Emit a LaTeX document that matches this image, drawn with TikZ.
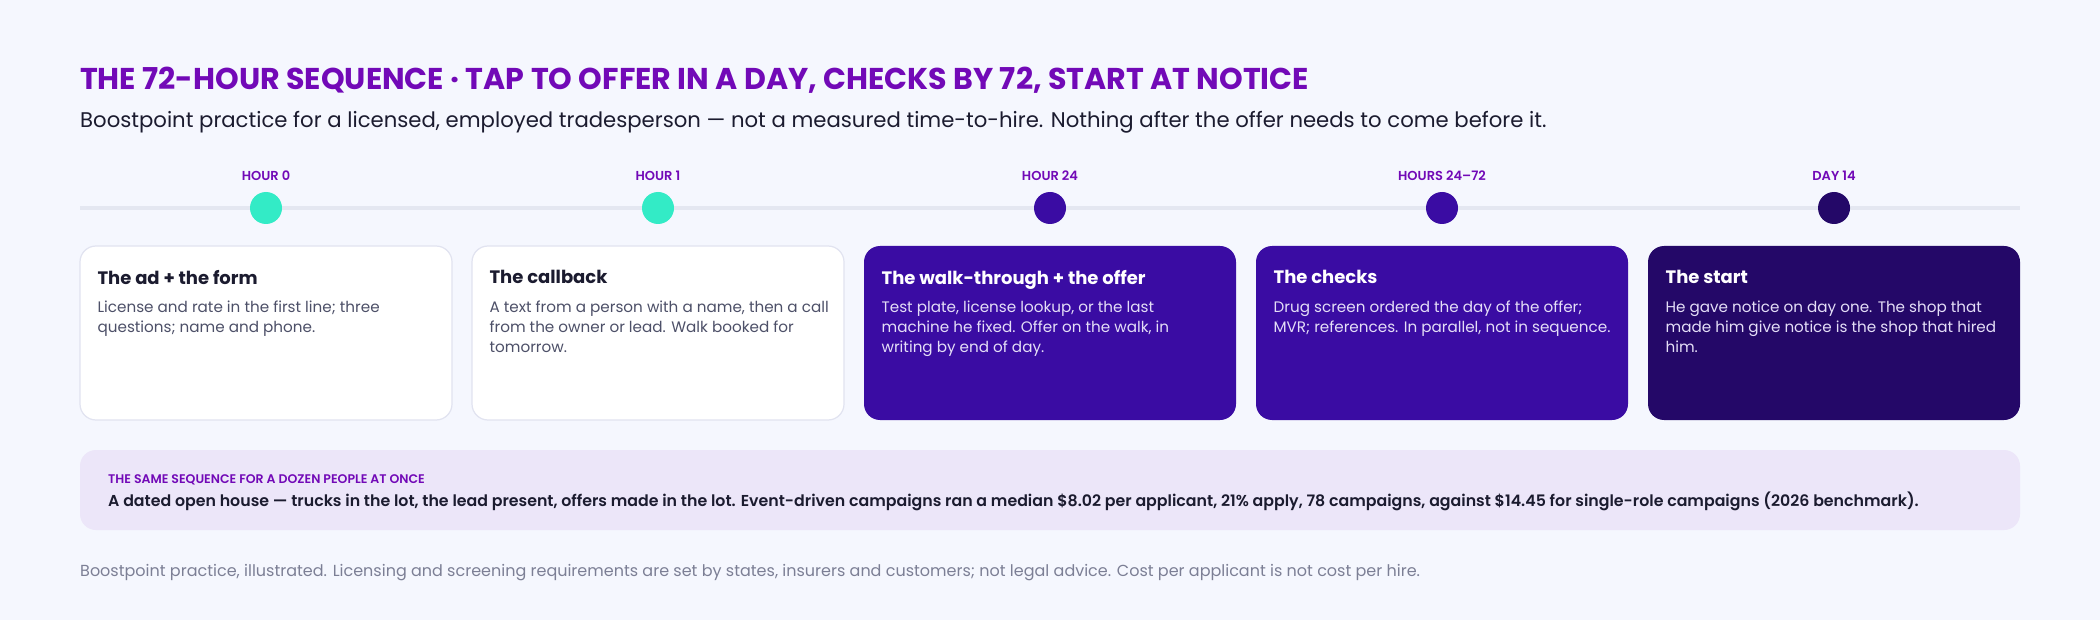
\documentclass[tikz,border=0pt]{standalone}
\usepackage{fontspec}
\setmainfont{Poppins}
\newfontfamily\semib{Poppins SemiBold}
\newfontfamily\medium{Poppins Medium}
\usepackage{xcolor}
\usetikzlibrary{positioning}
\definecolor{bgc}{HTML}{F5F7FE}
\definecolor{titlec}{HTML}{7209B7}
\definecolor{inkc}{HTML}{1B1B2F}
\definecolor{greyc}{HTML}{4D5068}
\definecolor{railc}{HTML}{E4E7F1}
\definecolor{tealc}{HTML}{33EBC6}
\definecolor{violetc}{HTML}{3A0CA3}
\definecolor{nightc}{HTML}{240868}
\definecolor{edgec}{HTML}{E1E3F0}
\definecolor{lilac}{HTML}{ECE6F9}
\definecolor{palec}{HTML}{E4DEF7}
\definecolor{footc}{HTML}{7C7F95}

\begin{document}
\begin{tikzpicture}[x=1pt,y=-1pt,
  card/.style={rounded corners=16pt,minimum width=372pt,minimum height=174pt,line width=1.2pt},
  hourlbl/.style={font=\semib\fontsize{13}{15}\selectfont,text=titlec,inner sep=0pt},
  dot/.style={circle,minimum size=32pt,inner sep=0pt},
  cardhead/.style={font=\bfseries\fontsize{18}{22}\selectfont,anchor=north west,inner sep=0pt},
  cardtext/.style={font=\fontsize{15.2}{20}\selectfont,anchor=north west,inner sep=0pt,align=left}]
\fill[bgc] (0,0) rectangle (2100,620);  % page
\useasboundingbox (0,0) rectangle (2100,620);

% heading
\node[anchor=west,inner sep=0pt,text=titlec,font=\bfseries\fontsize{30.1}{34}\selectfont] (title) at (80,80) {THE 72-HOUR SEQUENCE · TAP TO OFFER IN A DAY, CHECKS BY 72, START AT NOTICE};
\node[anchor=west,inner sep=0pt,text=inkc,font=\fontsize{21.2}{26}\selectfont] (sub) at (80,122) {Boostpoint practice for a licensed, employed tradesperson — not a measured time-to-hire. Nothing after the offer needs to come before it.};

% timeline
\coordinate (railL) at (80,208);
\coordinate (railR) at (2020,208);
\draw[railc,line width=4pt] (railL)--(railR);
\node[dot,fill=tealc] (d1) at (266,208) {};
\node[dot,fill=tealc] (d2) at (658,208) {};
\node[dot,fill=violetc] (d3) at (1050,208) {};
\node[dot,fill=violetc] (d4) at (1442,208) {};
\node[dot,fill=nightc] (d5) at (1834,208) {};
\node[hourlbl] (h1) at (266,176) {HOUR 0};
\node[hourlbl] (h2) at (658,176) {HOUR 1};
\node[hourlbl] (h3) at (1050,176) {HOUR 24};
\node[hourlbl] (h4) at (1442,176) {HOURS 24–72};
\node[hourlbl] (h5) at (1834,176) {DAY 14};

% cards
\node[card,draw=edgec,fill=white] (c1) at (266,333) {};
\node[card,draw=edgec,fill=white] (c2) at (658,333) {};
\node[card,fill=violetc] (c3) at (1050,333) {};
\node[card,fill=violetc] (c4) at (1442,333) {};
\node[card,fill=nightc] (c5) at (1834,333) {};

\node[cardhead,text=inkc] (t1) at ([shift={(18,25)}]c1.north west) {The ad + the form};
\node[cardtext,text=greyc] (b1) at ([shift={(18,55)}]c1.north west) {License and rate in the first line; three\\questions; name and phone.};
\node[cardhead,text=inkc] (t2) at ([shift={(18,25)}]c2.north west) {The callback};
\node[cardtext,text=greyc] (b2) at ([shift={(18,55)}]c2.north west) {A text from a person with a name, then a call\\from the owner or lead. Walk booked for\\tomorrow.};
\node[cardhead,text=white] (t3) at ([shift={(18,25)}]c3.north west) {The walk-through + the offer};
\node[cardtext,text=palec] (b3) at ([shift={(18,55)}]c3.north west) {Test plate, license lookup, or the last\\machine he fixed. Offer on the walk, in\\writing by end of day.};
\node[cardhead,text=white] (t4) at ([shift={(18,25)}]c4.north west) {The checks};
\node[cardtext,text=palec] (b4) at ([shift={(18,55)}]c4.north west) {Drug screen ordered the day of the offer;\\MVR; references. In parallel, not in sequence.};
\node[cardhead,text=white] (t5) at ([shift={(18,25)}]c5.north west) {The start};
\node[cardtext,text=palec] (b5) at ([shift={(18,55)}]c5.north west) {He gave notice on day one. The shop that\\made him give notice is the shop that hired\\him.};

% bulk note
\node[rounded corners=16pt,fill=lilac,minimum width=1940pt,minimum height=80pt] (bulk) at (1050,490) {};
\node[anchor=west,inner sep=0pt,text=titlec,font=\semib\fontsize{12.5}{14}\selectfont] (bulkhead) at (108,480) {THE SAME SEQUENCE FOR A DOZEN PEOPLE AT ONCE};
\node[anchor=west,inner sep=0pt,text=inkc,font=\semib\fontsize{15.8}{20}\selectfont] (bulktext) at (108,501) {A dated open house — trucks in the lot, the lead present, offers made in the lot. Event-driven campaigns ran a median \$8.02 per applicant, 21\% apply, 78 campaigns, against \$14.45 for single-role campaigns (2026 benchmark).};

% footnote
\node[anchor=west,inner sep=0pt,text=footc,font=\fontsize{16}{20}\selectfont] (foot) at (80,573) {Boostpoint practice, illustrated. Licensing and screening requirements are set by states, insurers and customers; not legal advice. Cost per applicant is not cost per hire.};
\end{tikzpicture}
\end{document}
